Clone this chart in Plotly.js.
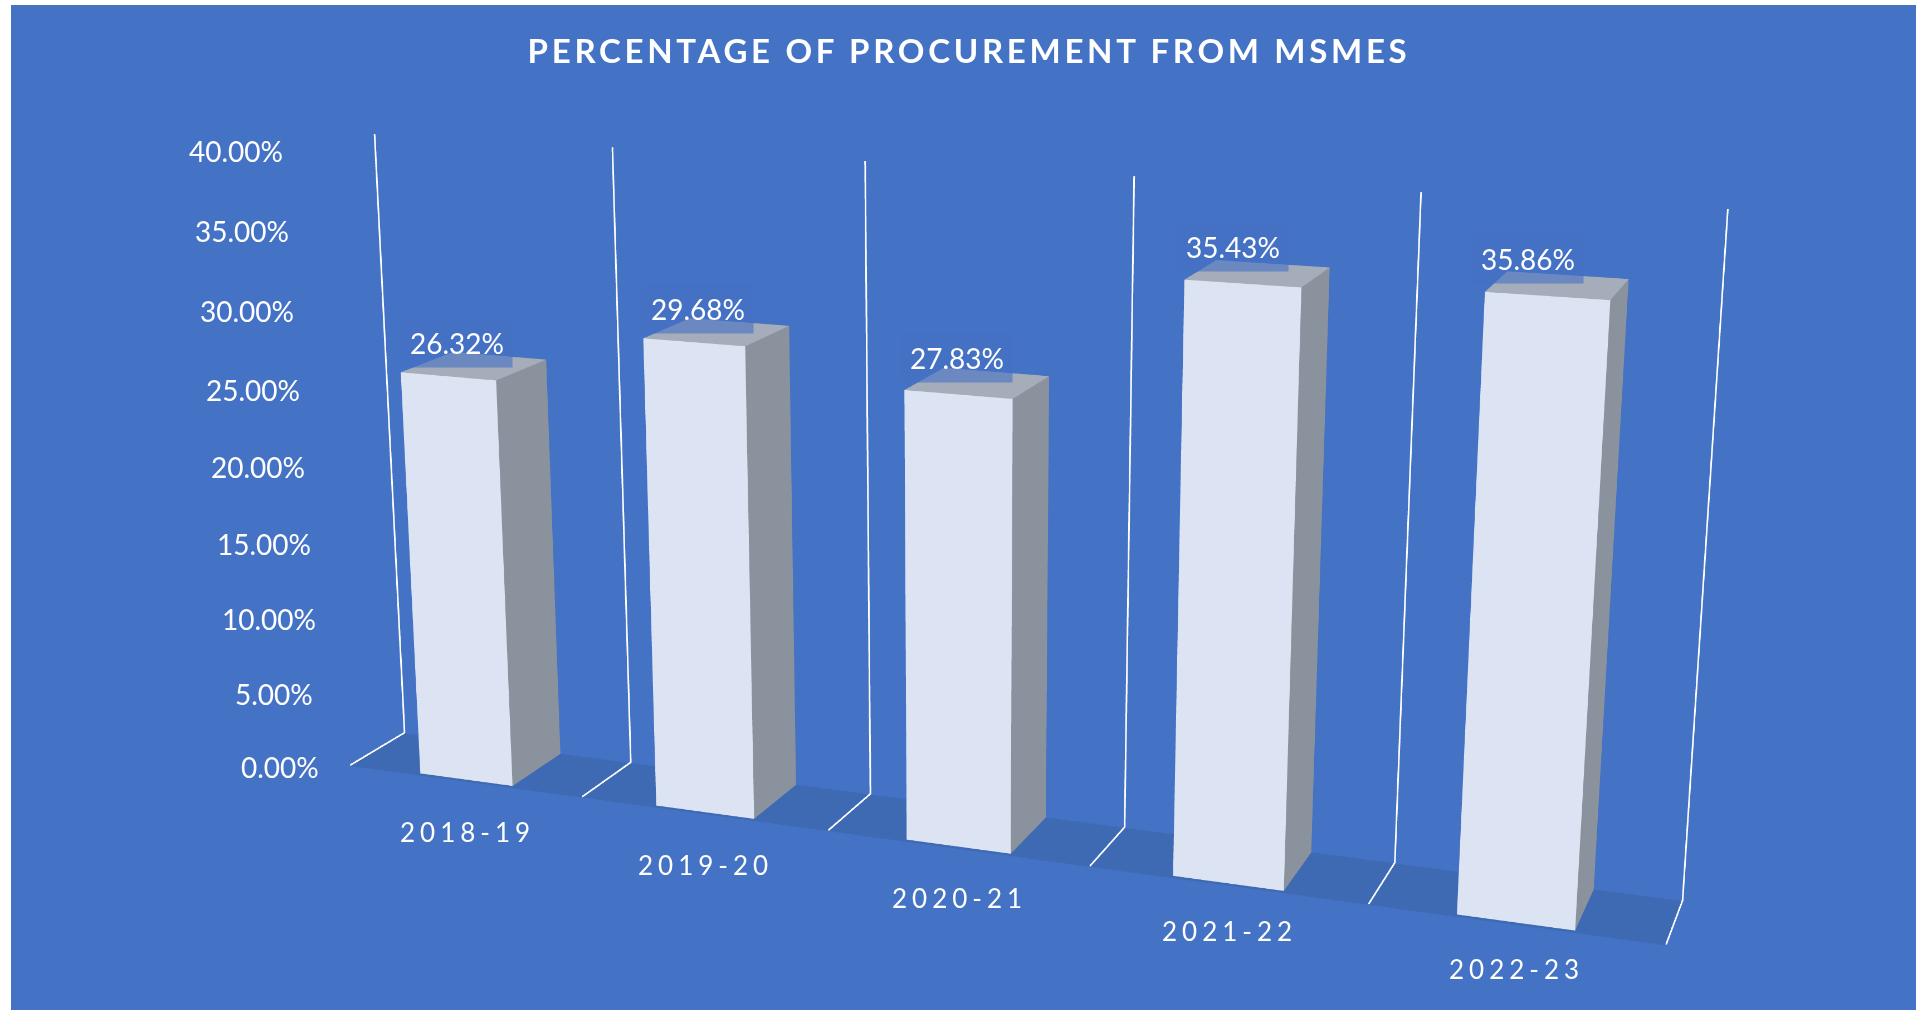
<!DOCTYPE html><html><head><meta charset="utf-8"><script src="https://cdn.plot.ly/plotly-3.0.1.min.js"></script>
<style>
html,body{margin:0;background:#fff;overflow:hidden}
#w{position:absolute;left:11px;top:5px;width:1905px;height:1005px;overflow:hidden}
#g{position:absolute;left:-1096px;top:-754px;width:4096px;height:2513px}
.gtitle{letter-spacing:3.7px}
</style></head><body><div id="w"><div id="g"></div></div>
<script>
const categories=['2018-19','2019-20','2020-21','2021-22','2022-23'];
const shares=[26.32,29.68,27.83,35.43,35.86];
const valueTicks=[0,5,10,15,20,25,30,35,40];
const chartTitle='PERCENTAGE OF PROCUREMENT FROM MSMES';

const FG='#FFFFFF',FONT='Lato, sans-serif';
const halfBar=0.199,barFront=0.032,barBack=0.982,floorZ=-0.05;
const innerW=4096,innerH=2513,offX=1096-11,offY=754-5;
const labelDX=[7,3.5,-1,-7.5,-16],labelDY=[27,27,30,30,30],catDY=[-43,-43,-42,-39,-38];

const traces=[];
traces.push({type:'mesh3d',x:[0.5,5.5,5.5,0.5],y:[0,0,1,1],z:[floorZ,floorZ,floorZ,floorZ],i:[0,0],j:[1,2],k:[2,3],color:'#3E6AB4',flatshading:true,lighting:{ambient:1,diffuse:0,specular:0,fresnel:0,roughness:1},hoverinfo:'skip'});
shares.forEach((h,n)=>{const c=n+1,w=halfBar,a=barFront,b=barBack;
 traces.push({type:'mesh3d',name:categories[n],x:[c-w,c+w,c+w,c-w,c-w,c+w,c+w,c-w],y:[a,a,b,b,a,a,b,b],z:[0,0,0,0,h,h,h,h],
  i:[0,0,1,1,4,4],j:[1,5,2,6,5,6],k:[5,4,6,5,6,7],
  facecolor:['#DCE3F2','#DCE3F2','#8A929D','#8A929D','#A5ADBA','#A5ADBA'],
  flatshading:true,lighting:{ambient:1,diffuse:0,specular:0,fresnel:0,roughness:1},hoverinfo:'skip'});
});
for(let n=0;n<=categories.length;n++){const b=n+0.5;
 traces.push({type:'scatter3d',mode:'lines',x:[b,b,b],y:[0,1,1],z:[0,0,40],line:{color:FG,width:3},hoverinfo:'skip',showlegend:false});
}

const anns=[];
shares.forEach((h,n)=>{anns.push({x:n+1,y:barFront,z:h,text:h.toFixed(2)+'%',showarrow:false,xanchor:'center',yanchor:'middle',
 xshift:labelDX[n]*1.222,yshift:labelDY[n]*1.222,width:110,height:48,borderpad:0,bgcolor:'rgba(68,114,196,0.6)',font:{family:FONT,size:28,color:FG}});});
categories.forEach((t,n)=>{anns.push({x:n+1,y:barFront,z:0,text:'<span style="letter-spacing:5px">'+t+'</span>',showarrow:false,xanchor:'center',yanchor:'middle',
 xshift:1,yshift:catDY[n]*1.222,font:{family:FONT,size:26,color:FG}});});
valueTicks.forEach(v=>{anns.push({x:0.5,y:0,z:v,text:v.toFixed(2)+'%',showarrow:false,xanchor:'center',yanchor:'middle',
 xshift:-70.5-v*0.245,yshift:-2,font:{family:FONT,size:28,color:FG}});});

const ax={visible:false,showgrid:false,zeroline:false,showspikes:false};
Plotly.newPlot('g',traces,{
 width:innerW,height:innerH,paper_bgcolor:'#4472C4',showlegend:false,margin:{l:0,r:0,t:0,b:0,pad:0},
 title:{text:chartTitle,x:(969+offX)/innerW,xanchor:'center',xref:'paper',yref:'paper',y:1-(51+offY)/innerH,yanchor:'middle',font:{family:FONT,size:33,weight:700,color:FG}},
 scene:{domain:{x:[0,1],y:[0,1]},aspectmode:'manual',aspectratio:{x:1.56,y:0.1464,z:0.72495},
  camera:{eye:{x:1.071,y:-2.921,z:0.838475},center:{x:-0.039,y:0.062,z:-0.009525},up:{x:0.005,y:0,z:1},projection:{type:'perspective'}},
  xaxis:Object.assign({range:[0.4,5.6]},ax),yaxis:Object.assign({range:[-0.1,1.1]},ax),zaxis:Object.assign({range:[-0.5,40]},ax),
  annotations:anns}
},{displayModeBar:false});
</script></body></html>
